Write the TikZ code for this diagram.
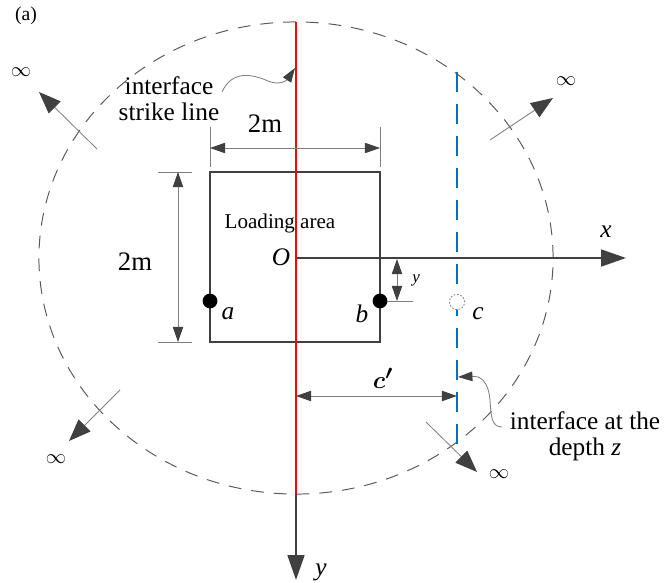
\documentclass[tikz,border=0pt]{standalone}
\usepackage{amsmath}
\usepackage{fontspec}
\setmainfont{Liberation Serif}
\usetikzlibrary{arrows.meta, positioning, calc}
\definecolor{linegray}{RGB}{64, 64, 64}
\definecolor{dimgray}{RGB}{128, 128, 128}
\definecolor{circlegray}{RGB}{90, 90, 90}
\definecolor{strikered}{RGB}{255, 0, 0}
\definecolor{depthblue}{RGB}{0, 112, 192}

\begin{document}
\begin{tikzpicture}[
    x=0.025cm, y=-0.025cm,
    axis/.style={draw=linegray, line width=1.4pt, -{Triangle[length=0.62cm, width=0.42cm, color=linegray]}},
    dimline/.style={draw=dimgray, line width=0.6pt, {Triangle[length=0.38cm, width=0.26cm, color=linegray]}-{Triangle[length=0.38cm, width=0.26cm, color=linegray]}},
    extline/.style={draw=dimgray, line width=0.6pt},
    farrow/.style={draw=dimgray, line width=0.6pt, -{Triangle[length=0.55cm, width=0.42cm, color=linegray]}},
    callout/.style={draw=dimgray, line width=0.6pt, -{Triangle[length=0.36cm, width=0.24cm, color=linegray]}},
    boundary/.style={draw=circlegray, line width=0.7pt, dash pattern=on 0.32cm off 0.25cm},
    loadbox/.style={draw=linegray, line width=1.6pt, minimum width=4.25cm, minimum height=4.25cm, inner sep=0pt},
    dotpt/.style={circle, fill=black, minimum size=0.37cm, inner sep=0pt},
    hollowpt/.style={circle, draw=dimgray, line width=0.6pt, dash pattern=on 1.2pt off 1.2pt, fill=white, minimum size=0.38cm, inner sep=0pt},
    lbl/.style={font=\fontsize{18}{18.5}\selectfont, inner sep=0pt},
    inflbl/.style={font=\fontsize{15}{15}\selectfont, inner sep=0pt}
]
\useasboundingbox (0,0) rectangle (670,583);

% Panel label
\node[font=\fontsize{14}{14}\selectfont, inner sep=0pt] (panel) at (26,16) {(a)};

% Far boundary
\coordinate (centre) at (296,258);
\draw[boundary] (centre) ellipse [x radius=6.425cm, y radius=5.9cm];

% Loading area
\node[loadbox] (load) at (295,257) {};
\node[font=\fontsize{15}{15}\selectfont, inner sep=0pt] (loadtxt) at (280,223) {Loading area};

% Axes
\coordinate (O) at (296,258);
\coordinate (xtip) at (626,258);
\coordinate (strikeTop) at (296,22);
\coordinate (strikeBot) at (296,494);
\coordinate (ytip) at (296,580);
\draw[axis] (O) -- (xtip);
\draw[axis] (strikeBot) -- (ytip);
\node[lbl] (xlab) at (606,232) {\textit{x}};
\node[lbl] (ylab) at (321,572) {\textit{y}};
\node[lbl] (Olab) at (281,257) {\textit{O}};

% Interface strike line
\draw[strikered, line width=1.7pt] (strikeTop) -- (strikeBot);

% Interface at depth z
\coordinate (depthTop) at (457,72);
\coordinate (depthBot) at (457,445);
\draw[depthblue, line width=2pt, dash pattern=on 0.5cm off 0.3cm] (depthTop) -- (depthBot);

% Points
\node[dotpt] (a) at (210,301) {};
\node[dotpt] (b) at (380,301) {};
\node[hollowpt] (c) at (457,302) {};
\node[lbl] (alab) at (228,314) {\textit{a}};
\node[lbl] (blab) at (362,314) {\textit{b}};
\node[lbl] (clab) at (478,314) {\textit{c}};

% Top dimension
\coordinate (tl1) at (210,127); \coordinate (tl2) at (210,167);
\coordinate (tr1) at (380,127); \coordinate (tr2) at (380,167);
\coordinate (tdl) at (210,148); \coordinate (tdr) at (380,148);
\draw[extline] (tl1) -- (tl2);
\draw[extline] (tr1) -- (tr2);
\draw[dimline] (tdl) -- (tdr);
\node[font=\fontsize{19}{19}\selectfont, inner sep=0pt] (toplab) at (265,124) {2m};

% Left dimension
\coordinate (lt1) at (158,172); \coordinate (lt2) at (192,172);
\coordinate (lb1) at (158,342); \coordinate (lb2) at (192,342);
\coordinate (ldt) at (178,172); \coordinate (ldb) at (178,342);
\draw[extline] (lt1) -- (lt2);
\draw[extline] (lb1) -- (lb2);
\draw[dimline] (ldt) -- (ldb);
\node[font=\fontsize{19}{19}\selectfont, inner sep=0pt] (leftlab) at (135,262) {2m};

% Offset y of point b
\coordinate (ye1) at (387,301); \coordinate (ye2) at (413,301);
\coordinate (ydt) at (397,259); \coordinate (ydb) at (397,301);
\draw[extline] (ye1) -- (ye2);
\draw[dimline] (ydt) -- (ydb);
\node[font=\fontsize{12}{12}\selectfont, inner sep=0pt] (ylabsmall) at (416,280) {\textit{y}};

% Distance c'
\coordinate (cdl) at (296,396); \coordinate (cdr) at (457,396);
\draw[dimline] (cdl) -- (cdr);
\node[font=\fontsize{19}{19}\selectfont, inner sep=0pt] (cplab) at (383,378) {$\boldsymbol{c'}$};

% Callouts
\node[lbl, align=center] (striketxt) at (169,99) {interface\\strike line};
\coordinate (sfrom) at (222,92);
\coordinate (smid) at (268,81);
\coordinate (sto) at (295,68);
\draw[callout] (sfrom) .. controls (232,70) and (252,74) .. (smid) .. controls (280,86) and (287,80) .. (sto);

\node[lbl, align=center] (depthtxt) at (585,436) {interface at the\\depth \textit{z}};
\coordinate (dfrom) at (502,427);
\coordinate (dmid) at (490,400);
\coordinate (dto) at (458,377);
\draw[callout] (dfrom) .. controls (491,427) and (491,415) .. (dmid) .. controls (488,380) and (480,376) .. (dto);

% Infinity arrows
\coordinate (ul1) at (97,149);  \coordinate (ul2) at (39,92);
\coordinate (ur1) at (490,140); \coordinate (ur2) at (553,98);
\coordinate (ll1) at (120,390); \coordinate (ll2) at (69,441);
\coordinate (lr1) at (426,422); \coordinate (lr2) at (477,472);
\draw[farrow] (ul1) -- (ul2);
\draw[farrow] (ur1) -- (ur2);
\draw[farrow] (ll1) -- (ll2);
\draw[farrow] (lr1) -- (lr2);
\node[inflbl] (ulinf) at (21,72) {$\infty$};
\node[inflbl] (urinf) at (566,81) {$\infty$};
\node[inflbl] (llinf) at (56,459) {$\infty$};
\node[inflbl] (lrinf) at (499,474) {$\infty$};
\end{tikzpicture}
\end{document}
